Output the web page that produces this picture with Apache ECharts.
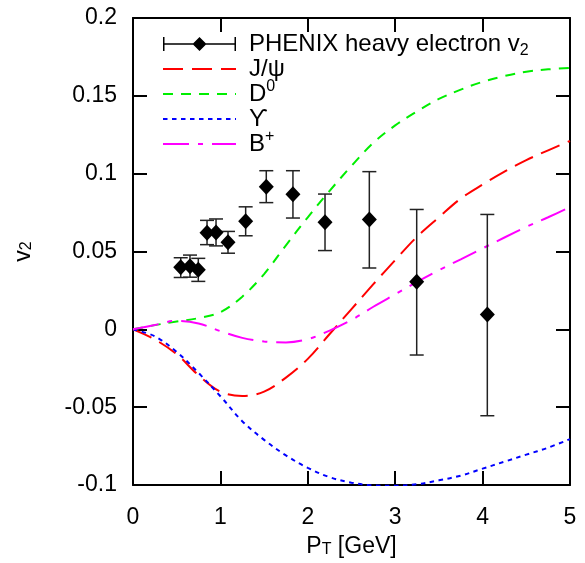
<!DOCTYPE html>
<html>
<head>
<meta charset="utf-8">
<script src="https://cdn.jsdelivr.net/npm/echarts@6/dist/echarts.min.js"></script>
<style>
html,body{margin:0;padding:0;background:#fff;}
#chart{width:585px;height:563px;}
</style>
</head>
<body>
<div id="chart"></div>
<script>
// ---- data ----
var ptGrid = [0, 0.25, 0.5, 0.75, 1.0, 1.25, 1.5, 1.75, 2.0, 2.25, 2.5, 2.75, 3.0, 3.25, 3.5, 3.75, 4.0, 4.25, 4.5, 4.75, 5.0];
var jpsiV2 = [0, -0.0065, -0.016, -0.0295, -0.040, -0.0428, -0.040, -0.031, -0.019, -0.003, 0.013, 0.029, 0.0445, 0.0595, 0.072, 0.084, 0.093, 0.1013, 0.1087, 0.115, 0.121];
var d0V2 = [0, 0.0027, 0.005, 0.0072, 0.011, 0.021, 0.0355, 0.054, 0.072, 0.089, 0.105, 0.1198, 0.131, 0.140, 0.148, 0.154, 0.159, 0.1627, 0.1655, 0.167, 0.168];
var upsilonV2 = [0, -0.0045, -0.0145, -0.028, -0.043, -0.059, -0.071, -0.081, -0.089, -0.095, -0.0985, -0.1003, -0.1005, -0.0995, -0.097, -0.094, -0.0895, -0.085, -0.0805, -0.076, -0.0705];
var bplusV2 = [0, 0.0028, 0.0055, 0.0038, -0.0012, -0.0055, -0.0078, -0.0084, -0.0063, -0.0008, 0.006, 0.0145, 0.0225, 0.0305, 0.038, 0.045, 0.052, 0.059, 0.0658, 0.072, 0.0785];

var phenixPt = [0.546, 0.652, 0.747, 0.847, 0.95, 1.087, 1.289, 1.525, 1.83, 2.197, 2.704, 3.246, 4.054];
var phenixV2 = [0.0399, 0.0405, 0.0382, 0.062, 0.0622, 0.0559, 0.0694, 0.0916, 0.0867, 0.0688, 0.0705, 0.0306, 0.0095];
var phenixLo = [0.0333, 0.0335, 0.0308, 0.0544, 0.0536, 0.0489, 0.0601, 0.0814, 0.0715, 0.0506, 0.0394, -0.0165, -0.0555];
var phenixHi = [0.046, 0.0477, 0.0456, 0.070, 0.0709, 0.0629, 0.0787, 0.1019, 0.1019, 0.0869, 0.1013, 0.077, 0.0738];

var seriesNames = ['PHENIX', 'Jpsi', 'D0', 'Upsilon', 'Bplus'];
var legendLabels = ['PHENIX heavy electron v{sub|2}', 'J/ψ', 'D{sup|0}', 'ϒ', 'B{sup|+}'];
var xTicks = [0, 1, 2, 3, 4, 5];
var yTicks = [-0.1, -0.05, 0, 0.05, 0.1, 0.15, 0.2];
var xTitle = 'P{sub|T} [GeV]';
var yTitle = 'v{sub|2}';

// ---- build ----
function pairs(xs, ys) { return xs.map(function (x, i) { return [x, ys[i]]; }); }
var FONT = '"Liberation Sans", Arial, Helvetica, sans-serif';
var richSub = {
  sub: { fontSize: 16, fontFamily: FONT, color: '#000', verticalAlign: 'bottom' },
  sup: { fontSize: 16, fontFamily: FONT, color: '#000', verticalAlign: 'top' }
};
var errData = phenixPt.map(function (x, i) { return [x, phenixV2[i], phenixLo[i], phenixHi[i]]; });

function curve(name, ys, color, dash) {
  return {
    name: name, type: 'line', data: pairs(ptGrid, ys), smooth: 0.35,
    symbol: 'none', showSymbol: false, z: 2,
    lineStyle: { color: color, width: 2, type: dash },
    itemStyle: { color: color }
  };
}
var hiddenMark = { opacity: 0 };

var chart = echarts.init(document.getElementById('chart'), null, { renderer: 'canvas' });
var option = {
  animation: false,
  backgroundColor: '#fff',
  grid: { left: 133, right: 15, top: 18, bottom: 71 },
  legend: {
    orient: 'vertical', left: 162, top: 29, align: 'left', padding: 0,
    itemWidth: 73, itemHeight: 14, itemGap: -5, itemTextGap: 15,
    selectedMode: false,
    data: [
      { name: seriesNames[0], icon: 'path://M0,0 H1.5 V14 H0 Z M71.5,0 H73 V14 H71.5 Z M0,6.3 H73 V7.7 H0 Z M36.5,0 L43.5,7 L36.5,14 L29.5,7 Z', itemStyle: { opacity: 1, color: '#000' } },
      { name: seriesNames[1], itemStyle: hiddenMark },
      { name: seriesNames[2], itemStyle: hiddenMark },
      { name: seriesNames[3], itemStyle: hiddenMark },
      { name: seriesNames[4], itemStyle: hiddenMark }
    ],
    formatter: function (n) { return legendLabels[seriesNames.indexOf(n)]; },
    textStyle: { fontSize: 24, fontFamily: FONT, color: '#000', lineHeight: 30, padding: [0, 0, 0, 8], rich: richSub }
  },
  xAxis: [{
    type: 'value', min: xTicks[0], max: xTicks[xTicks.length - 1], interval: 1,
    name: xTitle, nameLocation: 'middle', nameGap: 50,
    nameTextStyle: { fontSize: 23, fontFamily: FONT, color: '#000', rich: richSub },
    axisLine: { show: true, onZero: false, lineStyle: { color: '#000', width: 2 } },
    axisTick: { inside: true, length: 14, lineStyle: { color: '#000', width: 2 } },
    axisLabel: { margin: 21, fontSize: 23, fontFamily: FONT, color: '#000' },
    splitLine: { show: false }
  }, {
    type: 'value', position: 'top', min: xTicks[0], max: xTicks[xTicks.length - 1], interval: 1,
    axisLine: { show: true, onZero: false, lineStyle: { color: '#000', width: 2 } },
    axisTick: { inside: true, length: 14, lineStyle: { color: '#000', width: 2 } },
    axisLabel: { show: false }, splitLine: { show: false }
  }],
  yAxis: [{
    type: 'value', min: yTicks[0], max: yTicks[yTicks.length - 1], interval: 0.05,
    name: yTitle, nameLocation: 'middle', nameGap: 98, nameRotate: 90,
    nameTextStyle: { fontSize: 23, fontFamily: FONT, color: '#000', rich: richSub },
    axisLine: { show: true, onZero: false, lineStyle: { color: '#000', width: 2 } },
    axisTick: { inside: true, length: 14, lineStyle: { color: '#000', width: 2 } },
    axisLabel: { margin: 16, fontSize: 23, fontFamily: FONT, color: '#000',
      formatter: function (v) { return String(+v.toFixed(2)); } },
    splitLine: { show: false }
  }, {
    type: 'value', position: 'right', min: yTicks[0], max: yTicks[yTicks.length - 1], interval: 0.05,
    axisLine: { show: true, onZero: false, lineStyle: { color: '#000', width: 2 } },
    axisTick: { inside: true, length: 14, lineStyle: { color: '#000', width: 2 } },
    axisLabel: { show: false }, splitLine: { show: false }
  }],
  series: [
    {
      name: seriesNames[0], type: 'custom', data: errData, z: 3,
      itemStyle: { color: '#000' },
      renderItem: function (params, api) {
        var x = api.value(0);
        var top = api.coord([x, api.value(3)]);
        var bot = api.coord([x, api.value(2)]);
        var cw = 7;
        var st = { stroke: '#222', lineWidth: 1.5, fill: null };
        return {
          type: 'group', children: [
            { type: 'line', shape: { x1: top[0], y1: top[1], x2: bot[0], y2: bot[1] }, style: st },
            { type: 'line', shape: { x1: top[0] - cw, y1: top[1], x2: top[0] + cw, y2: top[1] }, style: st },
            { type: 'line', shape: { x1: bot[0] - cw, y1: bot[1], x2: bot[0] + cw, y2: bot[1] }, style: st }
          ]
        };
      },
      encode: { x: 0, y: 1 }
    },
    {
      name: seriesNames[0], type: 'scatter', data: pairs(phenixPt, phenixV2), z: 4,
      symbol: 'diamond', symbolSize: [15, 16], itemStyle: { color: '#000', opacity: 1 }
    },
    curve(seriesNames[1], jpsiV2, '#ff0000', [20, 9]),
    curve(seriesNames[2], d0V2, '#00ee00', [10, 8]),
    curve(seriesNames[3], upsilonV2, '#0000ff', [4.5, 4.5]),
    curve(seriesNames[4], bplusV2, '#ff00ff', [26, 9, 5, 9])
  ]
};
chart.setOption(option);
</script>
</body>
</html>
